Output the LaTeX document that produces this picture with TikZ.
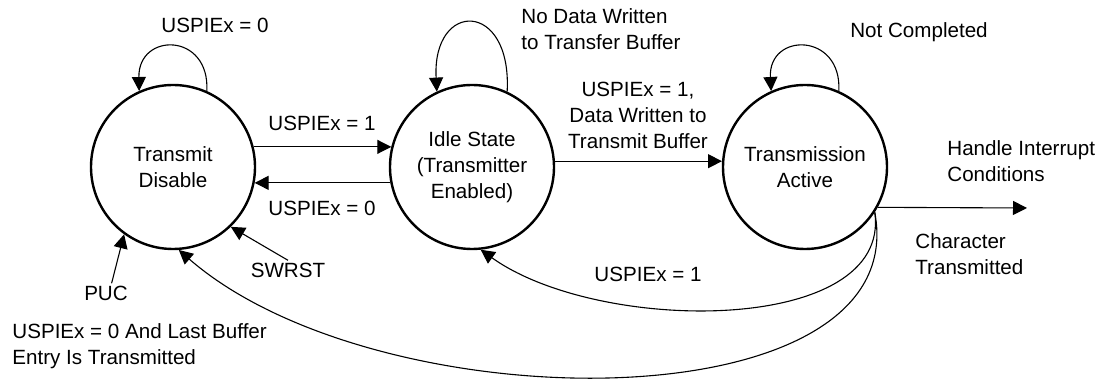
\documentclass[tikz,border=0pt]{standalone}
\usepackage{fontspec}
\setmainfont{Liberation Sans}
\usetikzlibrary{arrows.meta}
\tikzset{
  zustand/.style={circle,draw,line width=1.2pt,minimum size=82pt,inner sep=0pt,align=center},
  pfeil/.style={-{Triangle[length=7pt,width=7pt]},line width=0.55pt},
  beschr/.style={inner sep=1pt,align=center},
  beschrl/.style={inner sep=1pt,align=left,anchor=west},
}

\begin{document}
\begin{tikzpicture}[x=0.5pt,y=-0.5pt,font=\fontsize{10.3}{13}\selectfont]
  \useasboundingbox (0,0) rectangle (1104,379);
  % Zustaende
  \node[zustand] (aus)  at (173,167) {Transmit\\Disable};
  \node[zustand] (idle) at (472,167) {Idle State\\(Transmitter\\Enabled)};
  \node[zustand] (akt)  at (805,167) {Transmission\\Active};
  % Schleifen
  \draw[pfeil] (aus.66) .. controls (210,32) and (138,32) .. (aus.114);
  \node[beschr] (s1) at (215,25) {USPIEx = 0};
  \draw[pfeil] (idle.65) .. controls (512,0) and (432,0) .. (idle.115);
  \node[beschrl] (s2) at (519,29) {No Data Written\\to Transfer Buffer};
  \draw[pfeil] (akt.66) .. controls (842,32) and (768,32) .. (akt.114);
  \node[beschr] (s3) at (919,32) {Not Completed};
  % Uebergaenge
  \draw[pfeil] (aus.14) -- (idle.166);
  \node[beschr] (l12) at (322,123) {USPIEx = 1};
  \draw[pfeil] (idle.-169) -- (aus.-11);
  \node[beschr] (l21) at (322,208) {USPIEx = 0};
  \draw[pfeil] (idle.4) -- (akt.176);
  \node[beschr] (l23) at (638,115) {USPIEx = 1,\\Data Written to\\Transmit Buffer};
  \coordinate (ende) at (1027,208);
  \draw[pfeil] (akt.-29) -- (ende);
  \node[beschrl] (lint) at (945,161) {Handle Interrupt\\Conditions};
  \node[beschrl] (lchar) at (913,254) {Character\\Transmitted};
  % Rueckwege
  \draw[pfeil] (akt.-33) .. controls (892,335) and (600,335) .. (idle.-84);
  \node[beschr] (l32) at (648,274) {USPIEx = 1};
  \draw[pfeil] (akt.-33) .. controls (915,425) and (380,425) .. (aus.-86);
  \node[beschrl] (l31) at (10,346) {USPIEx = 0 And Last Buffer\\Entry Is Transmitted};
  % Reset
  \node[beschr] (puc) at (106,293) {PUC};
  \draw[pfeil] (puc.60) -- (aus.-126);
  \node[beschr] (swrst) at (288,270) {SWRST};
  \draw[pfeil] (swrst.north) -- (aus.-46);
\end{tikzpicture}
\end{document}
